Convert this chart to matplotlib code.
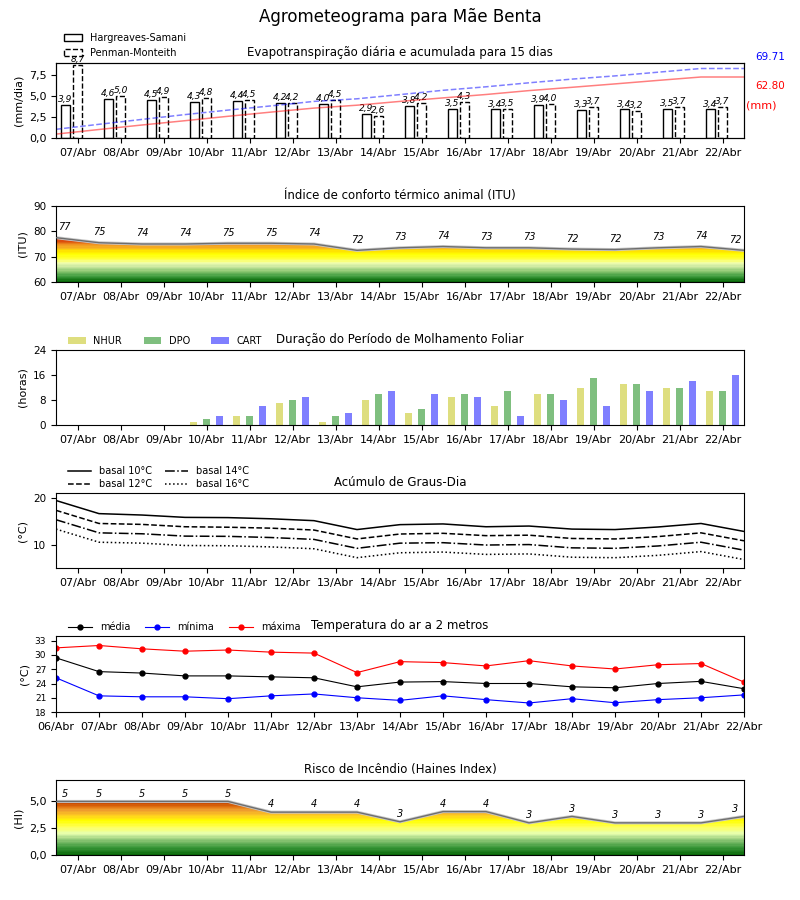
import matplotlib
matplotlib.use('Agg')
import matplotlib.pyplot as plt
import numpy as np
from matplotlib.colors import LinearSegmentedColormap
from matplotlib.ticker import FuncFormatter
from matplotlib.patches import Patch

# ---------------- data ----------------
dates = ['06/Abr', '07/Abr', '08/Abr', '09/Abr', '10/Abr', '11/Abr', '12/Abr', '13/Abr',
         '14/Abr', '15/Abr', '16/Abr', '17/Abr', '18/Abr', '19/Abr', '20/Abr', '21/Abr', '22/Abr']

et_hs = [3.9, 4.6, 4.5, 4.3, 4.4, 4.2, 4.0, 2.9, 3.8, 3.5, 3.4, 3.9, 3.3, 3.4, 3.5, 3.4]
et_pm = [8.7, 5.0, 4.9, 4.8, 4.5, 4.2, 4.5, 2.6, 4.2, 4.3, 3.5, 4.0, 3.7, 3.2, 3.7, 3.7]
total_hs = 62.80
total_pm = 69.71

itu = [77.5, 75.5, 75.0, 75.0, 75.3, 75.3, 75.0, 72.5, 73.5, 74.0, 73.5, 73.5, 73.0, 72.8, 73.5, 74.0, 72.5]
itu_lab = [77, 75, 74, 74, 75, 75, 74, 72, 73, 74, 73, 73, 72, 72, 73, 74, 72]

nhur = [0, 0, 0, 1, 3, 7, 1, 8, 4, 9, 6, 10, 12, 13, 12, 11]
dpo = [0, 0, 0, 2, 3, 8, 3, 10, 5, 10, 11, 10, 15, 13, 12, 11]
cart = [0, 0, 0, 3, 6, 9, 4, 11, 10, 9, 3, 8, 6, 11, 14, 16]

gd10 = [19.5, 16.7, 16.4, 15.9, 15.85, 15.6, 15.2, 13.3, 14.35, 14.5, 13.9, 14.05, 13.4, 13.3, 13.85, 14.6, 12.9]
gd12 = [17.4, 14.6, 14.4, 13.9, 13.8, 13.6, 13.2, 11.3, 12.35, 12.5, 12.0, 12.1, 11.4, 11.3, 11.8, 12.6, 10.9]
gd14 = [15.4, 12.6, 12.4, 11.9, 11.85, 11.6, 11.2, 9.3, 10.4, 10.5, 10.0, 10.1, 9.4, 9.3, 9.8, 10.6, 8.9]
gd16 = [13.4, 10.6, 10.4, 9.9, 9.85, 9.6, 9.2, 7.3, 8.35, 8.5, 8.0, 8.1, 7.4, 7.3, 7.8, 8.6, 6.9]

t_med = [29.4, 26.5, 26.2, 25.6, 25.6, 25.4, 25.2, 23.3, 24.3, 24.4, 24.0, 24.0, 23.3, 23.1, 24.0, 24.45, 22.9]
t_min = [25.2, 21.4, 21.2, 21.2, 20.8, 21.4, 21.8, 21.0, 20.45, 21.4, 20.6, 19.9, 20.8, 19.95, 20.6, 21.0, 21.6]
t_max = [31.5, 32.0, 31.3, 30.8, 31.05, 30.6, 30.4, 26.3, 28.6, 28.4, 27.7, 28.8, 27.7, 27.05, 27.95, 28.2, 24.3]

haines = [5, 5, 5, 5, 5, 4, 4, 4, 3.1, 4.05, 4.05, 3.0, 3.6, 3.0, 3.0, 3.0, 3.6]
haines_lab = [5, 5, 5, 5, 5, 4, 4, 4, 3, 4, 4, 3, 3, 3, 3, 3, 3]

# ---------------- helpers ----------------
plt.rcParams['font.family'] = ['DejaVu Sans']
comma = FuncFormatter(lambda v, p: ('%.1f' % v).replace('.', ','))

fig = plt.figure(figsize=(8, 9), dpi=100)
L, W = 56 / 800, 688 / 800


def axes_at(top, bottom):
    return fig.add_axes([L, 1 - bottom / 900, W, (bottom - top) / 900])


nd = len(dates) - 1
xpts = np.arange(len(dates))
mid = np.arange(nd) + 0.5


def day_ticks(ax):
    ax.set_xlim(0, nd)
    ax.set_xticks(mid)
    ax.set_xticklabels(dates[1:], fontsize=8)


def grad_fill(ax, x, y, cmap, vmin, vmax, ymin, ymax):
    poly = ax.fill_between(x, ymin, y, facecolor='none', edgecolor='none')
    grad = np.linspace(ymin, ymax, 400).reshape(-1, 1)
    im = ax.imshow(grad, extent=[x[0], x[-1], ymin, ymax], origin='lower', aspect='auto',
                   cmap=cmap, vmin=vmin, vmax=vmax, zorder=1, interpolation='nearest')
    im.set_clip_path(poly.get_paths()[0], transform=ax.transData)
    ax.plot(x, y, color='#c8c8c8', lw=2.2, zorder=2)
    ax.plot(x, y, color='#6e6e6e', lw=1.0, zorder=3)


fig.text(0.5, 1 - 17 / 900, 'Agrometeograma para Mãe Benta', ha='center', va='center', fontsize=12)

# ---------------- panel 1: evapotranspiration ----------------
ax1 = axes_at(63, 138)
bw = 0.2
xh = np.arange(nd) + 0.22
xp = np.arange(nd) + 0.5
ax1.bar(xh, et_hs, width=bw, facecolor='none', edgecolor='black', lw=1.0, zorder=3)
ax1.bar(xp, et_pm, width=bw, facecolor='none', edgecolor='black', lw=1.0, ls='--', zorder=3)
for x, v in zip(xh, et_hs):
    ax1.text(x, v + 0.1, ('%.1f' % v).replace('.', ','), ha='center', va='bottom',
             fontsize=6.5, style='italic', clip_on=False)
for x, v in zip(xp, et_pm):
    ax1.text(x, v + 0.1, ('%.1f' % v).replace('.', ','), ha='center', va='bottom',
             fontsize=6.5, style='italic', clip_on=False)
ax1.set_ylim(0, 8.9)
ax1.set_yticks([0, 2.5, 5, 7.5])
ax1.yaxis.set_major_formatter(comma)
ax1.tick_params(axis='y', labelsize=8)
day_ticks(ax1)
ax1.set_ylabel('(mm/dia)', fontsize=8)
ax1.set_title('Evapotranspiração diária e acumulada para 15 dias', fontsize=8.5, pad=5)
ax1b = ax1.twinx()
cum_hs = list(np.cumsum(et_hs))
cum_pm = list(np.cumsum(et_pm))
ax1b.plot(xpts, cum_hs + [cum_hs[-1]], color='red', alpha=0.5, lw=1.1)
ax1b.plot(xpts, cum_pm + [cum_pm[-1]], color='blue', alpha=0.5, lw=1.1, ls='--')
ax1b.set_ylim(0, 75)
ax1b.set_yticks([])
ax1b.set_xlim(0, nd)
h1 = [Patch(facecolor='white', edgecolor='black', lw=1.0, label='Hargreaves-Samani'),
      Patch(facecolor='white', edgecolor='black', lw=1.0, ls='--', label='Penman-Monteith')]
ax1b.legend(handles=h1, loc='lower left', bbox_to_anchor=(0.012, 1.065), frameon=False, fontsize=7,
            handlelength=1.8, handleheight=0.8, borderaxespad=0, borderpad=0, labelspacing=0.55)
fig.text(755 / 800, 1 - 57 / 900, '%.2f' % total_pm, color='blue', fontsize=7.5, va='center')
fig.text(755 / 800, 1 - 86 / 900, '%.2f' % total_hs, color='red', fontsize=7.5, va='center')
fig.text(746 / 800, 1 - 105 / 900, '(mm)', color='red', fontsize=8, va='center')

# ---------------- panel 2: ITU ----------------
ax2 = axes_at(206, 282)
itu_cmap = LinearSegmentedColormap.from_list('itu', [
    (0.0, '#0b6b0b'), (2 / 18, '#3d9a3d'), (4 / 18, '#86c46e'), (6 / 18, '#cdeaa2'),
    (7.5 / 18, '#f2ffb0'), (9 / 18, '#ffff40'), (11 / 18, '#ffff00'), (12.5 / 18, '#ffe000'),
    (13.5 / 18, '#f8b422'), (15 / 18, '#f09020'), (16 / 18, '#e06010'), (1.0, '#d01000')], N=36)
grad_fill(ax2, xpts, itu, itu_cmap, 60, 78, 60, 90)
for x, v, lab in zip(xpts, itu, itu_lab):
    ax2.annotate('%d' % lab, (min(max(x, 0.2), nd - 0.2), v), xytext=(0, 4),
                 textcoords='offset points', ha='center', va='bottom', fontsize=7, style='italic')
ax2.set_ylim(60, 90)
ax2.set_yticks([60, 70, 80, 90])
ax2.tick_params(axis='y', labelsize=7.5)
day_ticks(ax2)
ax2.set_ylabel('(ITU)', fontsize=8)
ax2.set_title('Índice de conforto térmico animal (ITU)', fontsize=8.5, pad=5)

# ---------------- panel 3: leaf wetness ----------------
ax3 = axes_at(350, 425)
w3 = 0.16
ax3.bar(mid - 0.3, nhur, width=w3, color='y', alpha=0.5, label='NHUR')
ax3.bar(mid, dpo, width=w3, color='g', alpha=0.5, label='DPO')
ax3.bar(mid + 0.3, cart, width=w3, color='b', alpha=0.5, label='CART')
ax3.set_ylim(0, 24)
ax3.set_yticks([0, 8, 16, 24])
ax3.tick_params(axis='y', labelsize=7.5)
day_ticks(ax3)
ax3.set_ylabel('(horas)', fontsize=8)
ax3.set_title('Duração do Período de Molhamento Foliar', fontsize=8.5, pad=5)
ax3.legend(loc='lower left', bbox_to_anchor=(0.012, 1.0), ncol=3, frameon=False, fontsize=7,
           handlelength=1.8, handleheight=0.8, borderaxespad=0, columnspacing=2.2)

# ---------------- panel 4: degree days ----------------
ax4 = axes_at(493, 568)
ax4.plot(xpts, gd10, color='black', lw=1.1, ls='-', label='basal 10°C')
ax4.plot(xpts, gd12, color='black', lw=1.1, ls='--', label='basal 12°C')
ax4.plot(xpts, gd14, color='black', lw=1.1, ls='-.', label='basal 14°C')
ax4.plot(xpts, gd16, color='black', lw=1.1, ls=':', label='basal 16°C')
ax4.set_ylim(5.1, 21.1)
ax4.set_yticks([10, 20])
ax4.tick_params(axis='y', labelsize=7.5)
day_ticks(ax4)
ax4.set_ylabel('(°C)', fontsize=8)
ax4.set_title('Acúmulo de Graus-Dia', fontsize=8.5, pad=5)
ax4.legend(loc='lower left', bbox_to_anchor=(0.012, 1.0), ncol=2, frameon=False, fontsize=7,
           handlelength=2.4, borderaxespad=0, labelspacing=0.3, columnspacing=1.3)

# ---------------- panel 5: temperature ----------------
ax5 = axes_at(636, 712)
ax5.plot(xpts, t_med, color='black', lw=0.8, marker='o', ms=3.5, label='média')
ax5.plot(xpts, t_min, color='blue', lw=0.8, marker='o', ms=3.5, label='mínima')
ax5.plot(xpts, t_max, color='red', lw=0.8, marker='o', ms=3.5, label='máxima')
ax5.set_ylim(18, 34)
ax5.set_yticks([18, 21, 24, 27, 30, 33])
ax5.tick_params(axis='y', labelsize=6.5)
ax5.set_xlim(0, nd)
ax5.set_xticks(xpts)
ax5.set_xticklabels(dates, fontsize=8)
ax5.set_ylabel('(°C)', fontsize=8)
ax5.set_title('Temperatura do ar a 2 metros', fontsize=8.5, pad=5)
ax5.legend(loc='lower left', bbox_to_anchor=(0.012, 1.0), ncol=3, frameon=False, fontsize=7,
           handlelength=2.5, borderaxespad=0, columnspacing=1.5)

# ---------------- panel 6: Haines ----------------
ax6 = axes_at(780, 855)
hi_cmap = LinearSegmentedColormap.from_list('hi', [
    (0.0, '#0b6b0b'), (0.14, '#3d9a3d'), (0.28, '#90c878'), (0.40, '#e8ffb0'),
    (0.52, '#ffff60'), (0.64, '#ffff00'), (0.74, '#ffd020'), (0.84, '#f0a030'),
    (0.92, '#e07010'), (1.0, '#c04000')], N=40)
grad_fill(ax6, xpts, haines, hi_cmap, 0, 5, 0, 7)
for x, v, lab in zip(xpts, haines, haines_lab):
    ax6.annotate('%d' % lab, (min(max(x, 0.2), nd - 0.2), v), xytext=(0, 2),
                 textcoords='offset points', ha='center', va='bottom', fontsize=7, style='italic')
ax6.set_ylim(0, 7)
ax6.set_yticks([0, 2.5, 5])
ax6.yaxis.set_major_formatter(comma)
ax6.tick_params(axis='y', labelsize=8)
day_ticks(ax6)
ax6.set_ylabel('(HI)', fontsize=8)
ax6.set_title('Risco de Incêndio (Haines Index)', fontsize=8.5, pad=5)

fig.savefig('out.png', dpi=100)
